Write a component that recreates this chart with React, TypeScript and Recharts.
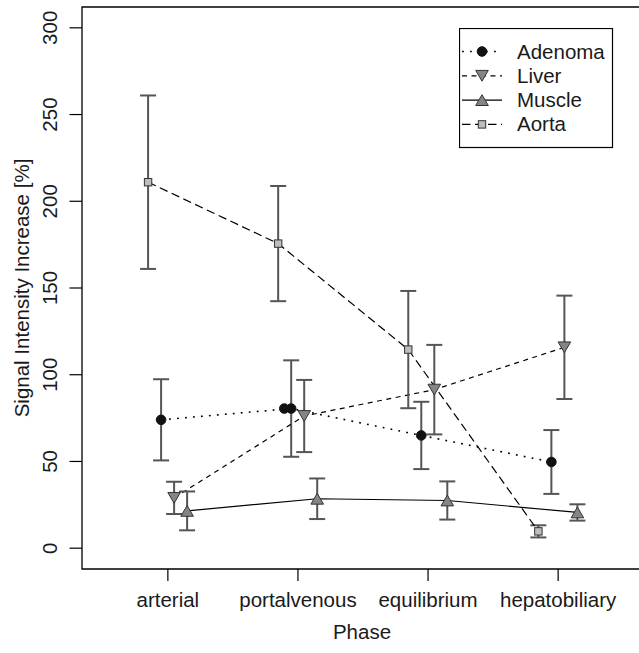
import React from 'react';
import { LineChart, Line, XAxis, YAxis, ErrorBar, ReferenceArea, Label } from 'recharts';

const phases = ['arterial', 'portalvenous', 'equilibrium', 'hepatobiliary'];
const yTicks = [0, 50, 100, 150, 200, 250, 300];

const adenomaMean = [74, 80.5, 65, 49.7];
const adenomaErr = [23.4, 27.8, 19.4, 18.4];
const liverMean = [29, 76.2, 91.4, 115.8];
const liverErr = [9.3, 20.8, 25.8, 29.8];
const muscleMean = [21.5, 28.5, 27.5, 20.6];
const muscleErr = [11.2, 11.7, 11, 4.7];
const aortaMean = [211, 175.6, 114.5, 9.7];
const aortaErr = [50, 33.2, 33.8, 3.5];
// second, overplotted adenoma marker visible at the portalvenous phase
const adenomaOverplot = [{ phase: 2, value: 80.5 }];

const FONT = 'Liberation Sans, Arial, Helvetica, sans-serif';
const INK = '#1a1a1a';

type Shape = 'circle' | 'down' | 'up' | 'square';

const series = [
  { name: 'Adenoma', mean: adenomaMean, err: adenomaErr, dodge: -0.052, shape: 'circle' as Shape, dash: '1.8 6.2', lw: 1.6 },
  { name: 'Liver', mean: liverMean, err: liverErr, dodge: 0.048, shape: 'down' as Shape, dash: '5 4.5', lw: 1.2 },
  { name: 'Muscle', mean: muscleMean, err: muscleErr, dodge: 0.148, shape: 'up' as Shape, dash: undefined, lw: 1.2 },
  { name: 'Aorta', mean: aortaMean, err: aortaErr, dodge: -0.152, shape: 'square' as Shape, dash: '8.5 4.5', lw: 1.2 },
];

const rows = (s: typeof series[number]) =>
  s.mean.map((v, i) => ({ x: i + 1 + s.dodge, y: v, err: s.err[i] }));

const Marker = ({ shape, cx, cy }: { shape: Shape; cx: number; cy: number }) => {
  if (shape === 'circle') return <circle cx={cx} cy={cy} r={4.8} fill="#111" stroke="#111" />;
  if (shape === 'square')
    return <rect x={cx - 3.7} y={cy - 3.7} width={7.4} height={7.4} fill="#bdbdbd" stroke="#333" strokeWidth={1} />;
  const h = 5.4;
  const w = 6.3;
  const pts =
    shape === 'down'
      ? `${cx - w},${cy - h} ${cx + w},${cy - h} ${cx},${cy + h}`
      : `${cx - w},${cy + h} ${cx + w},${cy + h} ${cx},${cy - h}`;
  return <polygon points={pts} fill="#858585" stroke="#333" strokeWidth={1} />;
};

const YTick = (props: any) => (
  <text
    transform={`translate(57,${props.y}) rotate(-90)`}
    textAnchor="middle"
    fontSize={20.5}
    fontFamily={FONT}
    fill={INK}
  >
    {props.payload.value}
  </text>
);

const XTick = (props: any) => (
  <text x={props.x} y={607} textAnchor="middle" fontSize={20.5} fontFamily={FONT} fill={INK}>
    {phases[Math.round(props.payload.value) - 1]}
  </text>
);

const LegendBox = () => (
  <svg width={155} height={121} style={{ display: 'block' }}>
    <rect x={0.5} y={0.5} width={153} height={119} fill="#fff" stroke="#000" strokeWidth={1.2} />
    {series.map((s, i) => {
      const cy = 23.5 + i * 24.3;
      return (
        <g key={s.name}>
          <line x1={3} x2={43} y1={cy} y2={cy} stroke="#000" strokeWidth={s.lw} strokeDasharray={s.dash} />
          <Marker shape={s.shape} cx={23} cy={cy} />
          <text x={58} y={cy + 7} fontSize={20.5} fontFamily={FONT} fill={INK}>
            {s.name}
          </text>
        </g>
      );
    })}
  </svg>
);

export default function App() {
  return (
    <div style={{ position: 'absolute', left: 0, top: 0, width: 639, height: 653, overflow: 'hidden', background: '#fff' }}>
      <LineChart width={644} height={653} margin={{ top: 7, right: 0, bottom: 0, left: 0 }}>
        <XAxis
          type="number"
          dataKey="x"
          domain={[0.34, 4.66]}
          ticks={[1, 2, 3, 4]}
          allowDataOverflow
          axisLine={false}
          tickSize={12}
          tickLine={{ stroke: '#000', strokeWidth: 1.2 }}
          tick={<XTick />}
          height={84}
        >
          <Label
            content={() => (
              <text x={362} y={639} textAnchor="middle" fontSize={20.5} fontFamily={FONT} fill={INK}>
                Phase
              </text>
            )}
          />
        </XAxis>
        <YAxis
          type="number"
          domain={[-12, 312]}
          ticks={yTicks}
          allowDataOverflow
          axisLine={false}
          tickSize={12.5}
          tickLine={{ stroke: '#000', strokeWidth: 1.2 }}
          tick={<YTick />}
          width={82}
        >
          <Label
            content={() => (
              <text
                transform="translate(29,288) rotate(-90)"
                textAnchor="middle"
                fontSize={20.5}
                fontFamily={FONT}
                fill={INK}
              >
                Signal Intensity Increase [%]
              </text>
            )}
          />
        </YAxis>
        <ReferenceArea x1={0.34} x2={4.66} y1={-12} y2={312} fill="none" stroke="#000" strokeWidth={1.3} />
        {series.map((s) => (
          <Line
            key={s.name}
            data={rows(s)}
            dataKey="y"
            name={s.name}
            type="linear"
            stroke="#000"
            strokeWidth={s.lw}
            strokeDasharray={s.dash}
            isAnimationActive={false}
            dot={(p: any) => <Marker key={`${s.name}-${p.index}`} shape={s.shape} cx={p.cx} cy={p.cy} />}
            activeDot={false}
          >
            <ErrorBar dataKey="err" direction="y" width={8} stroke="#555" strokeWidth={2} />
          </Line>
        ))}
        <Line
          data={adenomaOverplot.map((d) => ({ x: d.phase - 0.105, y: d.value }))}
          dataKey="y"
          name="Adenoma (overplot)"
          stroke="none"
          isAnimationActive={false}
          dot={(p: any) => <Marker key={`ov-${p.index}`} shape="circle" cx={p.cx} cy={p.cy} />}
          activeDot={false}
        />
      </LineChart>
      <div style={{ position: 'absolute', left: 459, top: 28 }}>
        <LegendBox />
      </div>
    </div>
  );
}
